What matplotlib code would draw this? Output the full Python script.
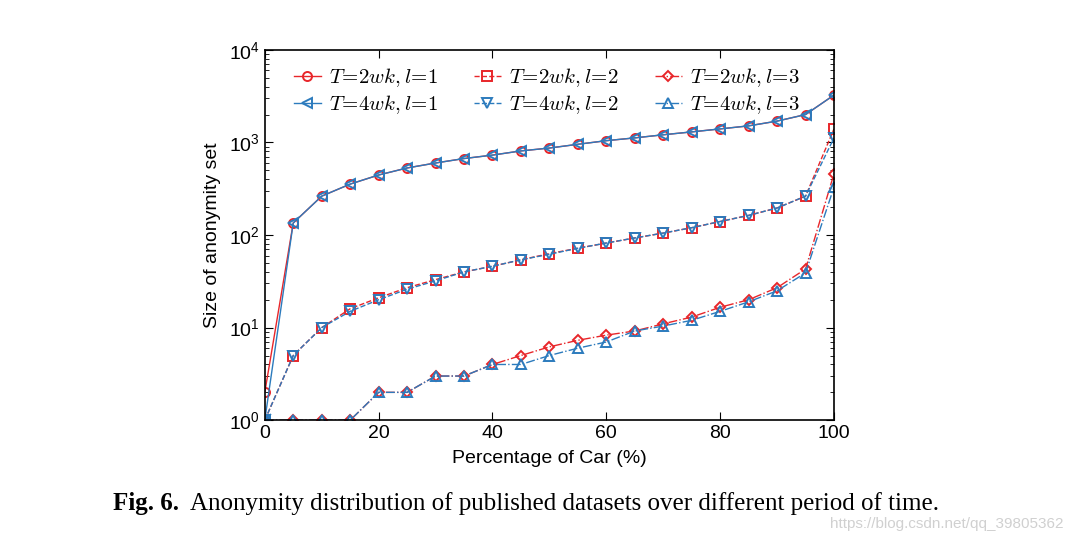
import math

import matplotlib
matplotlib.use("Agg")
import matplotlib.pyplot as plt
from matplotlib.ticker import FuncFormatter, LogLocator

plt.rcParams["font.family"] = ["Liberation Sans", "DejaVu Sans"]
plt.rcParams["mathtext.fontset"] = "cm"

# percentage of cars
pct = [0, 5, 10, 15, 20, 25, 30, 35, 40, 45, 50, 55, 60, 65, 70, 75, 80, 85, 90, 95, 100]

# T = 2wk
t2_l1 = [2, 135, 263, 355, 445, 530, 600, 670, 730, 810, 870, 955, 1045, 1120, 1210, 1300, 1400, 1510, 1700, 2000, 3250]
t2_l2 = [1, 5, 10, 16, 21, 27, 33, 40, 46, 54, 63, 72, 82, 93, 105, 120, 140, 163, 196, 263, 1400]
t2_l3 = [1, 1, 1, 1, 2, 2, 3, 3, 4, 5, 6.2, 7.3, 8.3, 9.2, 11, 13, 16.6, 20, 27, 43, 460]

# T = 4wk
t4_l1 = [1, 135, 263, 355, 445, 530, 600, 670, 730, 810, 870, 955, 1045, 1120, 1210, 1300, 1400, 1510, 1700, 2000, 3250]
t4_l2 = [1, 5, 10, 15, 20, 26, 32, 40, 46, 54, 62, 72, 82, 93, 105, 120, 140, 163, 196, 263, 1120]
t4_l3 = [1, 1, 1, 1, 2, 2, 3, 3, 4, 4, 5, 6, 7, 9.2, 10.4, 12, 15, 19, 25, 39, 330]

RED = "#e8262a"
BLUE = "#2c7bbd"

fig = plt.figure(figsize=(10.72, 5.36), dpi=100, facecolor="white")
ax = fig.add_axes([0.247, 0.216, 0.531, 0.691])

series = [
    (t2_l1, RED, "o", "-", r"$T\!=\!2wk, l\!=\!1$"),
    (t2_l2, RED, "s", "--", r"$T\!=\!2wk, l\!=\!2$"),
    (t2_l3, RED, "D", "-.", r"$T\!=\!2wk, l\!=\!3$"),
    (t4_l1, BLUE, "<", "-", r"$T\!=\!4wk, l\!=\!1$"),
    (t4_l2, BLUE, "v", "--", r"$T\!=\!4wk, l\!=\!2$"),
    (t4_l3, BLUE, "^", "-.", r"$T\!=\!4wk, l\!=\!3$"),
]
lines = []
for values, color, marker, ls, label in series:
    ms = 5.5 if marker == "D" else 6.5
    (line,) = ax.plot(pct, values, color=color, marker=marker, linestyle=ls, linewidth=1.0,
                      markersize=ms, markerfacecolor="none", markeredgewidth=1.4, label=label)
    lines.append(line)

ax.set_yscale("log")
ax.set_xlim(0, 100)
ax.set_ylim(1, 1e4)
ax.set_xticks([0, 20, 40, 60, 80, 100])
ax.yaxis.set_major_locator(LogLocator(base=10, numticks=10))
ax.yaxis.set_minor_locator(LogLocator(base=10, subs=range(2, 10), numticks=10))
ax.yaxis.set_major_formatter(FuncFormatter(lambda v, p: r"$\mathregular{10^{%d}}$" % round(math.log10(v))))
ax.tick_params(which="both", direction="in", top=True, right=True, labelsize=14)
ax.tick_params(which="major", length=6)
ax.tick_params(which="minor", length=3)
for spine in ax.spines.values():
    spine.set_linewidth(1.2)

ax.set_xlabel("Percentage of Car (%)", fontsize=14, labelpad=6)
ax.set_ylabel("Size of anonymity set", fontsize=14, labelpad=6)

# legend filled row by row: red series on top, blue below
order = [0, 3, 1, 4, 2, 5]
ax.legend([lines[i] for i in order], [lines[i].get_label() for i in order],
          ncol=3, frameon=False, fontsize=15, loc="upper left", bbox_to_anchor=(0.025, 0.995),
          handlelength=1.3, handletextpad=0.4, columnspacing=1.7, labelspacing=0.2, borderaxespad=0.3)

fig.text(0.105, 0.060, "Fig. 6.", fontsize=18, fontweight="bold", family="Liberation Serif", va="center")
fig.text(0.177, 0.060, "Anonymity distribution of published datasets over different period of time.",
         fontsize=18, family="Liberation Serif", va="center")
fig.text(0.992, 0.022, "https://blog.csdn.net/qq_39805362", fontsize=11, color="#d0d0d0",
         ha="right", va="center")

fig.savefig("out.png", dpi=100)
